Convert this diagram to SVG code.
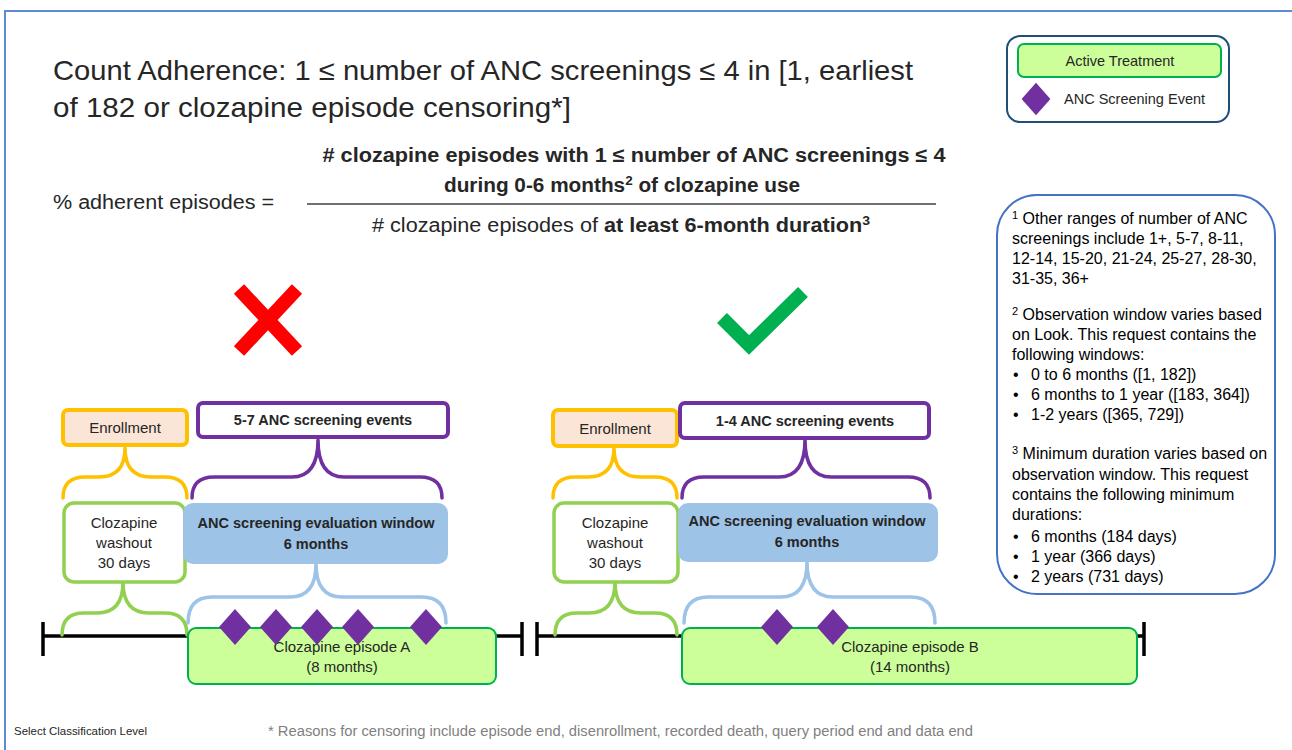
<svg xmlns="http://www.w3.org/2000/svg" width="1292" height="750" viewBox="0 0 1292 750">
<defs>
<style>
.cal{font-family:"Liberation Sans",Arial,sans-serif;fill:#262626}
.b{font-weight:bold}
.ar{font-family:"Liberation Sans",Arial,sans-serif;fill:#000;font-size:16px}
.brace{fill:none;stroke-width:3.5;stroke-linecap:round}
.enr{fill:#FBE5D6;stroke:#FFC000;stroke-width:4}
.cnt{fill:#fff;stroke:#7030A0;stroke-width:4}
.wash{fill:#fff;stroke:#92D050;stroke-width:3.5}
.eval{fill:#9DC3E6}
.epi{fill:#CCFF99;stroke:#00B050;stroke-width:2}
.dia{fill:#7030A0}
.tl{stroke:#000;stroke-width:3.5;fill:none}
</style>
<polygon id="dm" points="0,-18 16,0 0,18 -16,0"/>
</defs>
<rect width="1292" height="750" fill="#fff"/>
<path d="M5,750 L5,11 L1292,11" fill="none" stroke="#5B8BD0" stroke-width="2"/>

<g id="title">
<text class="cal" x="53" y="80" font-size="28" textLength="860" lengthAdjust="spacingAndGlyphs">Count Adherence: 1 ≤ number of ANC screenings ≤ 4 in [1, earliest</text>
<text class="cal" x="53" y="117" font-size="28" textLength="518" lengthAdjust="spacingAndGlyphs">of 182 or clozapine episode censoring*]</text>
</g>

<g id="formula">
<text class="cal" x="53" y="209" font-size="20" textLength="221" lengthAdjust="spacingAndGlyphs">% adherent episodes =</text>
<text class="cal b" x="634" y="162" font-size="20" text-anchor="middle" textLength="623" lengthAdjust="spacingAndGlyphs"># clozapine episodes with 1 ≤ number of ANC screenings ≤ 4</text>
<text class="cal b" x="444" y="192" font-size="20" textLength="356" lengthAdjust="spacingAndGlyphs">during 0-6 months<tspan font-size="13" dy="-7">2</tspan><tspan dy="7"> of clozapine use</tspan></text>
<line x1="307" y1="204" x2="936" y2="204" stroke="#404040" stroke-width="1.5"/>
<text class="cal" x="372" y="232" font-size="20" textLength="498" lengthAdjust="spacingAndGlyphs"># clozapine episodes of <tspan class="b">at least 6-month duration</tspan><tspan class="b" font-size="13" dy="-7">3</tspan></text>
</g>

<g id="legend">
<rect x="1007" y="36" width="222" height="86" rx="13" fill="#fff" stroke="#1F4E79" stroke-width="2"/>
<rect x="1018" y="44" width="203" height="33" rx="6" class="epi"/>
<text class="cal" x="1120" y="66" font-size="14.5" text-anchor="middle">Active Treatment</text>
<use href="#dm" x="1036" y="99" class="dia" transform="translate(1036 99) scale(0.9) translate(-1036 -99)"/>
<text class="cal" x="1064" y="104" font-size="14.5">ANC Screening Event</text>
</g>

<g id="footnotes">
<rect x="997" y="195" width="278" height="399" rx="40" fill="#fff" stroke="#4472C4" stroke-width="2"/>
<text class="ar" x="1012" y="224"><tspan font-size="11" dy="-5">1</tspan><tspan dy="5"> Other ranges of number of ANC</tspan></text>
<text class="ar" x="1012" y="244">screenings include 1+, 5-7, 8-11,</text>
<text class="ar" x="1012" y="264">12-14, 15-20, 21-24, 25-27, 28-30,</text>
<text class="ar" x="1012" y="284">31-35, 36+</text>
<text class="ar" x="1012" y="320"><tspan font-size="11" dy="-5">2</tspan><tspan dy="5"> Observation window varies based</tspan></text>
<text class="ar" x="1012" y="340">on Look. This request contains the</text>
<text class="ar" x="1012" y="360">following windows:</text>
<text class="ar" x="1013" y="380">•</text><text class="ar" x="1031" y="380">0 to 6 months ([1, 182])</text>
<text class="ar" x="1013" y="400">•</text><text class="ar" x="1031" y="400">6 months to 1 year ([183, 364])</text>
<text class="ar" x="1013" y="420">•</text><text class="ar" x="1031" y="420">1-2 years ([365, 729])</text>
<text class="ar" x="1012" y="459"><tspan font-size="11" dy="-5">3</tspan><tspan dy="5"> Minimum duration varies based on</tspan></text>
<text class="ar" x="1012" y="480">observation window. This request</text>
<text class="ar" x="1012" y="500">contains the following minimum</text>
<text class="ar" x="1012" y="520">durations:</text>
<text class="ar" x="1013" y="542">•</text><text class="ar" x="1031" y="542">6 months (184 days)</text>
<text class="ar" x="1013" y="562">•</text><text class="ar" x="1031" y="562">1 year (366 days)</text>
<text class="ar" x="1013" y="582">•</text><text class="ar" x="1031" y="582">2 years (731 days)</text>
</g>

<g id="cross">
<line x1="239" y1="289" x2="297" y2="351" stroke="#FF0000" stroke-width="14"/>
<line x1="297" y1="289" x2="239" y2="351" stroke="#FF0000" stroke-width="14"/>
</g>
<g id="check">
<polyline points="722,318 749,345 803,292" fill="none" stroke="#00B050" stroke-width="14" stroke-linejoin="miter"/>
</g>

<g id="timelines">
<line class="tl" x1="43" y1="636" x2="522" y2="636"/>
<line class="tl" x1="43" y1="622" x2="43" y2="656"/>
<line class="tl" x1="522" y1="622" x2="522" y2="656"/>
<line class="tl" x1="537" y1="636" x2="1144" y2="636"/>
<line class="tl" x1="537" y1="622" x2="537" y2="656"/>
<line class="tl" x1="1144" y1="622" x2="1144" y2="656"/>
</g>

<g id="connectors">
<path class="brace" stroke="#FFC000" d="M63,498 Q63,477 85,477 L99,477 Q125,477 125,448 M187,498 Q187,477 165,477 L151,477 Q125,477 125,448"/>
<path class="brace" stroke="#7030A0" d="M192,498 Q192,477 214,477 L292,477 Q318,477 318,440 M442,498 Q442,477 420,477 L344,477 Q318,477 318,440"/>
<path class="brace" stroke="#92D050" d="M62,635 Q62,613 84,613 L97,613 Q123,613 123,582 M187,635 Q187,613 165,613 L149,613 Q123,613 123,582"/>
<path class="brace" stroke="#9DC3E6" d="M188,623 Q188,597 212,597 L290,597 Q316,597 316,564 M446,623 Q446,597 422,597 L342,597 Q316,597 316,564"/>
<path class="brace" stroke="#FFC000" d="M553,498 Q553,477 575,477 L588,477 Q614,477 614,448 M677,498 Q677,477 655,477 L640,477 Q614,477 614,448"/>
<path class="brace" stroke="#7030A0" d="M682,498 Q682,477 704,477 L779,477 Q805,477 805,440 M930,498 Q930,477 908,477 L831,477 Q805,477 805,440"/>
<path class="brace" stroke="#92D050" d="M555,635 Q555,613 577,613 L589,613 Q615,613 615,582 M677,635 Q677,613 655,613 L641,613 Q615,613 615,582"/>
<path class="brace" stroke="#9DC3E6" d="M684,623 Q684,597 708,597 L781,597 Q807,597 807,562 M935,623 Q935,597 911,597 L833,597 Q807,597 807,562"/>
</g>

<g id="enrollA"><rect class="enr" x="63" y="410" width="124" height="35" rx="5"/><text class="cal" x="125" y="433" font-size="15" text-anchor="middle">Enrollment</text></g>
<g id="countA"><rect class="cnt" x="198" y="403" width="250" height="34" rx="5"/><text class="cal b" x="323" y="425" font-size="14.5" text-anchor="middle">5-7 ANC screening events</text></g>
<g id="washA"><rect class="wash" x="64" y="503" width="121" height="79" rx="10"/><text class="cal" x="124" y="528" font-size="15" text-anchor="middle">Clozapine</text><text class="cal" x="124" y="548" font-size="15" text-anchor="middle">washout</text><text class="cal" x="124" y="568" font-size="15" text-anchor="middle">30 days</text></g>
<g id="evalA"><rect class="eval" x="183" y="503" width="265" height="61" rx="10"/><text class="cal b" x="316" y="528" font-size="14.5" text-anchor="middle">ANC screening evaluation window</text><text class="cal b" x="316" y="549" font-size="14.5" text-anchor="middle">6 months</text></g>
<g id="episodeA"><rect class="epi" x="188" y="628" width="308" height="56" rx="8"/><text class="cal" x="342" y="652" font-size="15" text-anchor="middle">Clozapine episode A</text><text class="cal" x="342" y="672" font-size="15" text-anchor="middle">(8 months)</text></g>
<g id="eventsA" class="dia">
<use href="#dm" x="235" y="627"/><use href="#dm" x="276" y="627"/><use href="#dm" x="317" y="627"/><use href="#dm" x="358" y="627"/><use href="#dm" x="426" y="627"/>
</g>

<g id="enrollB"><rect class="enr" x="553" y="410" width="124" height="36" rx="5"/><text class="cal" x="615" y="434" font-size="15" text-anchor="middle">Enrollment</text></g>
<g id="countB"><rect class="cnt" x="680" y="403" width="249" height="35" rx="5"/><text class="cal b" x="805" y="426" font-size="14.5" text-anchor="middle">1-4 ANC screening events</text></g>
<g id="washB"><rect class="wash" x="554" y="503" width="124" height="79" rx="10"/><text class="cal" x="615" y="528" font-size="15" text-anchor="middle">Clozapine</text><text class="cal" x="615" y="548" font-size="15" text-anchor="middle">washout</text><text class="cal" x="615" y="568" font-size="15" text-anchor="middle">30 days</text></g>
<g id="evalB"><rect class="eval" x="678" y="503" width="260" height="59" rx="10"/><text class="cal b" x="807" y="526" font-size="14.5" text-anchor="middle">ANC screening evaluation window</text><text class="cal b" x="807" y="547" font-size="14.5" text-anchor="middle">6 months</text></g>
<g id="episodeB"><rect class="epi" x="682" y="628" width="455" height="56" rx="8"/><text class="cal" x="910" y="652" font-size="15" text-anchor="middle">Clozapine episode B</text><text class="cal" x="910" y="672" font-size="15" text-anchor="middle">(14 months)</text></g>
<g id="eventsB" class="dia">
<use href="#dm" x="777" y="627"/><use href="#dm" x="833" y="627"/>
</g>

<g id="footer">
<text x="14" y="735" font-family="Liberation Sans,Arial,sans-serif" font-size="11" fill="#262626" textLength="133" lengthAdjust="spacingAndGlyphs">Select Classification Level</text>
<text x="268" y="736" font-family="Liberation Sans,Arial,sans-serif" font-size="14" fill="#7F7F7F" textLength="705" lengthAdjust="spacingAndGlyphs">* Reasons for censoring include episode end, disenrollment, recorded death, query period end and data end</text>
</g>
</svg>
